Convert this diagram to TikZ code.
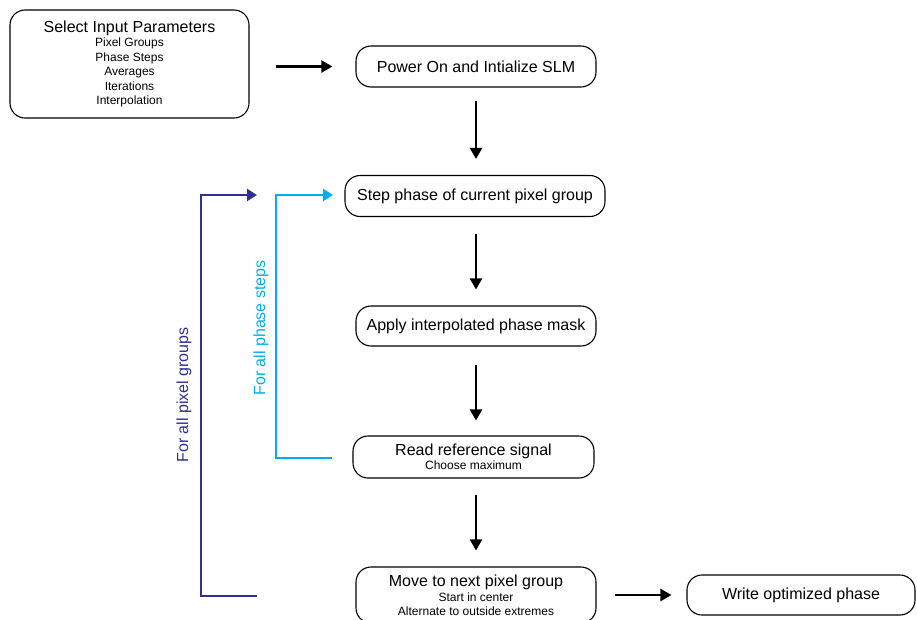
\documentclass[tikz,border=0pt]{standalone}
\usepackage{fontspec}
\setmainfont{Liberation Sans}
\usetikzlibrary{arrows.meta}
\definecolor{loopdark}{RGB}{46,49,146}
\definecolor{looplight}{RGB}{0,174,239}
\newcommand{\mainsize}{\fontsize{16}{18}\selectfont}
\newcommand{\subsize}{\fontsize{12}{15}\selectfont}
\begin{document}
\begin{tikzpicture}[x=1pt,y=-1pt,
  box/.style={draw=black,line width=1.1pt,rounded corners=15pt,align=center,
    inner sep=0pt,font=\mainsize},
  flow/.style={draw=black,line width=2.2pt,-{Triangle[length=11pt,width=12pt]}},
  pgloop/.style={draw=loopdark,line width=2.4pt,-{Triangle[length=10pt,width=12pt]}},
  psloop/.style={draw=looplight,line width=2.4pt,-{Triangle[length=10pt,width=12pt]}}]
\clip (0,0) rectangle (917,619);

% boxes of the flow
\node[box,minimum width=239pt,minimum height=108pt] (params) at (129.5,64)
  {Select Input Parameters\\[-3.4pt]
   \subsize Pixel Groups\\[-3.5pt] \subsize Phase Steps\\[-3.5pt] \subsize Averages\\[-3.5pt]
   \subsize Iterations\\[-3.5pt] \subsize Interpolation};
\node[box,minimum width=240pt,minimum height=41pt] (power) at (476,66.5)
  {Power On and Intialize SLM};
\node[box,minimum width=260pt,minimum height=41pt] (step) at (475,196)
  {Step phase of current pixel group};
\node[box,minimum width=240pt,minimum height=40pt] (mask) at (476,326)
  {Apply interpolated phase mask};
\node[box,minimum width=241pt,minimum height=42pt] (read) at (473.5,457)
  {Read reference signal\\[-4.4pt]\subsize Choose maximum};
\node[box,minimum width=240pt,minimum height=56pt] (next) at (476,595)
  {Move to next pixel group\\[-3.4pt]\subsize Start in center\\[-4pt]
   \subsize Alternate to outside extremes};
\node[box,minimum width=228pt,minimum height=40pt] (write) at (801,595)
  {Write optimized phase};

% main flow arrows
\draw[flow,shorten <=26pt,shorten >=23pt] (params.east |- power.west) -- (power.west);
\draw[flow,shorten <=13pt,shorten >=16pt] (power.south) -- (power.south |- step.north);
\draw[flow,shorten <=17pt,shorten >=16pt] (step.south -| power.south) -- (power.south |- mask.north);
\draw[flow,shorten <=18pt,shorten >=15pt] (mask.south) -- (mask.south |- read.north);
\draw[flow,shorten <=16pt,shorten >=16pt] (read.south -| mask.south) -- (mask.south |- next.north);
\draw[flow,shorten <=18pt,shorten >=15pt] (next.east |- write.west) -- (write.west);

% loop over phase steps
\coordinate (psStart) at (332,458);
\coordinate (psRail) at (276,300);
\coordinate (psTip) at (333,195);
\draw[psloop] (psStart) -- (psStart -| psRail) -- (psTip -| psRail) -- (psTip);
\node[text=looplight,rotate=90,font=\mainsize,inner sep=0pt] (pslabel) at (261,328)
  {For all phase steps};

% loop over pixel groups
\coordinate (pgStart) at (257,596);
\coordinate (pgRail) at (201,400);
\coordinate (pgTip) at (257,195);
\draw[pgloop] (pgStart) -- (pgStart -| pgRail) -- (pgTip -| pgRail) -- (pgTip);
\node[text=loopdark,rotate=90,font=\mainsize,inner sep=0pt] (pglabel) at (184,395)
  {For all pixel groups};
\end{tikzpicture}
\end{document}
